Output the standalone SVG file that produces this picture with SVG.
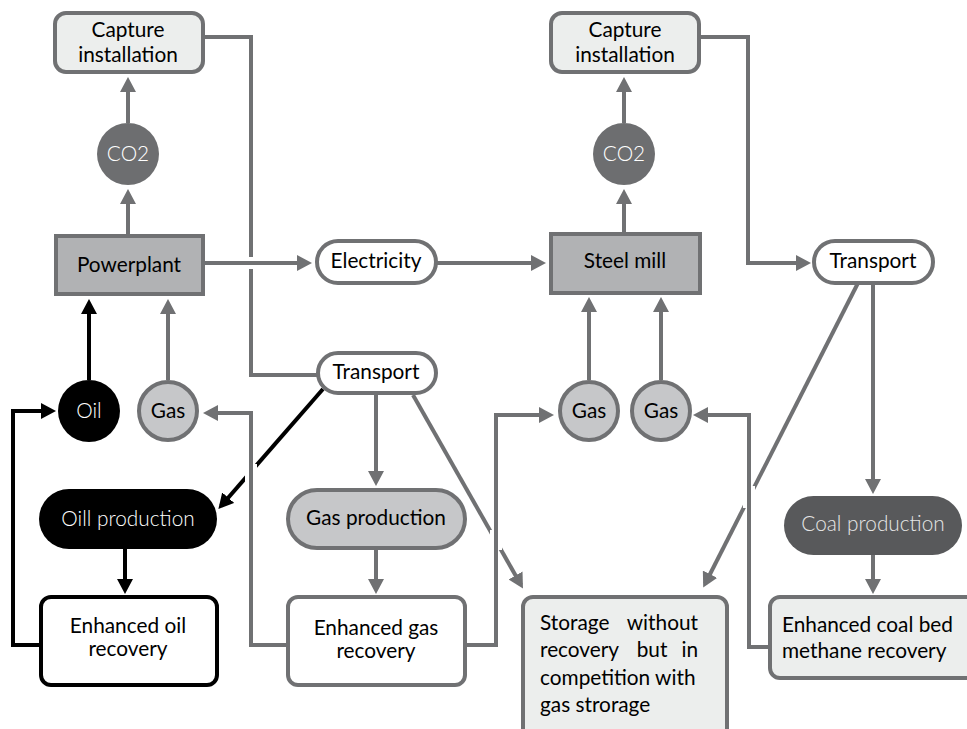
<svg xmlns="http://www.w3.org/2000/svg" width="967" height="729" viewBox="0 0 967 729">
<style>
text{font-family:Lato,"Open Sans","Liberation Sans",sans-serif;font-size:20.8px;fill:#000;text-anchor:middle}
.w{fill:#fff;font-weight:300}
.lt{fill:#e6e6e6;font-weight:300}
.la{text-anchor:start}
.le{text-anchor:end}
.g{fill:none;stroke:#707173;stroke-width:4}
.b{fill:none;stroke:#000;stroke-width:4}
.halo{fill:none;stroke:#fff;stroke-width:12}
.ga{marker-end:url(#ag)}
.ba{marker-end:url(#ab)}
.box{stroke:#707173;stroke-width:4}
</style>
<defs>
<marker id="ag" markerUnits="userSpaceOnUse" markerWidth="16" markerHeight="16" refX="11" refY="8" orient="auto"><path d="M0,0 L15,8 L0,16 z" fill="#707173"/></marker>
<marker id="ab" markerUnits="userSpaceOnUse" markerWidth="16" markerHeight="16" refX="11" refY="8" orient="auto"><path d="M0,0 L15,8 L0,16 z" fill="#000"/></marker>
</defs>
<rect width="967" height="729" fill="#fff"/>
<g id="connectors">
<line class="b ba" x1="323" y1="389" x2="221" y2="506"/>
<line class="g ga" x1="413" y1="395" x2="521" y2="585"/>
<line class="g ga" x1="858" y1="283" x2="705" y2="584"/>
<line class="halo" x1="251" y1="464" x2="251" y2="484"/>
<line class="halo" x1="496" y1="530" x2="496" y2="550"/>
<line class="halo" x1="749" y1="486" x2="749" y2="508"/>
<path class="b ba" d="M40,645 H13 V411 H52"/>
<path class="g ga" d="M287,645 H251 V413 H207"/>
<path class="g ga" d="M466,645 H496 V415 H550"/>
<path class="g ga" d="M769,647 H749 V415 H697"/>
<path class="g" d="M203,37 H251 V375 H318"/>
<path class="g ga" d="M699,37 H748 V263 H807"/>
<line class="halo" x1="242" y1="263" x2="260" y2="263"/>
<line class="g ga" x1="203" y1="263" x2="308" y2="263"/>
<line class="g ga" x1="436" y1="263" x2="542" y2="263"/>
<line class="g ga" x1="128" y1="123" x2="128" y2="81"/>
<line class="g ga" x1="128" y1="235" x2="128" y2="193"/>
<line class="g ga" x1="624" y1="123" x2="624" y2="81"/>
<line class="g ga" x1="624" y1="233" x2="624" y2="193"/>
<line class="b ba" x1="89" y1="380" x2="89" y2="303"/>
<line class="g ga" x1="168" y1="380" x2="168" y2="303"/>
<line class="g ga" x1="589" y1="380" x2="589" y2="301"/>
<line class="g ga" x1="661" y1="380" x2="661" y2="301"/>
<line class="g ga" x1="376" y1="393" x2="376" y2="482"/>
<line class="g ga" x1="376" y1="549" x2="376" y2="590"/>
<line class="b ba" x1="125" y1="549" x2="125" y2="590"/>
<line class="g ga" x1="873" y1="283" x2="873" y2="490"/>
<line class="g ga" x1="873" y1="555" x2="873" y2="590"/>
</g>
<g id="captureL"><rect class="box" x="55" y="13" width="148" height="59" rx="11" fill="#eceeed"/><text x="128" y="37">Capture</text><text x="128" y="62">installation</text></g>
<g id="co2L"><circle cx="128" cy="154" r="31" fill="#6d6e70"/><text class="w" x="128" y="161">CO2</text></g>
<g id="powerplant"><rect class="box" x="56" y="236" width="147" height="58" fill="#b1b2b4"/><text x="129" y="272">Powerplant</text></g>
<g id="electricity"><rect class="box" x="317" y="241" width="119" height="42" rx="21" fill="#fff"/><text x="376" y="268">Electricity</text></g>
<g id="captureR"><rect class="box" x="551" y="13" width="148" height="59" rx="11" fill="#eceeed"/><text x="625" y="37">Capture</text><text x="625" y="62">installation</text></g>
<g id="co2R"><circle cx="624" cy="154" r="31" fill="#6d6e70"/><text class="w" x="624" y="161">CO2</text></g>
<g id="steelmill"><rect class="box" x="551" y="234" width="149" height="59" fill="#b1b2b4"/><text x="625" y="268">Steel mill</text></g>
<g id="transportR"><rect class="box" x="814" y="241" width="119" height="42" rx="21" fill="#fff"/><text x="873" y="268">Transport</text></g>
<g id="transportM"><rect class="box" x="318" y="353" width="118" height="40" rx="20" fill="#fff"/><text x="376" y="379">Transport</text></g>
<g id="oil"><circle cx="89" cy="411" r="31" fill="#000"/><text class="w" x="89" y="418">Oil</text></g>
<g id="gasL"><circle cx="168" cy="411" r="29" fill="#c6c7c9" stroke="#707173" stroke-width="4"/><text x="168" y="418">Gas</text></g>
<g id="gasS1"><circle cx="589" cy="411" r="29" fill="#c6c7c9" stroke="#707173" stroke-width="4"/><text x="589" y="418">Gas</text></g>
<g id="gasS2"><circle cx="661" cy="411" r="29" fill="#c6c7c9" stroke="#707173" stroke-width="4"/><text x="661" y="418">Gas</text></g>
<g id="oilprod"><rect x="39" y="489" width="178" height="60" rx="30" fill="#000"/><text class="w" x="128" y="526">Oill production</text></g>
<g id="gasprod"><rect class="box" x="288" y="490" width="177" height="58" rx="29" fill="#c6c7c9"/><text x="376" y="525">Gas production</text></g>
<g id="coalprod"><rect x="784" y="496" width="178" height="59" rx="29.5" fill="#58595b"/><text class="lt" x="873" y="531">Coal production</text></g>
<g id="eor"><rect x="41" y="597" width="176" height="88" rx="10" fill="#fff" stroke="#000" stroke-width="4"/><text x="128" y="633">Enhanced oil</text><text x="128" y="656">recovery</text></g>
<g id="egr"><rect class="box" x="288" y="597" width="177" height="88" rx="10" fill="#fff"/><text x="376" y="635">Enhanced gas</text><text x="376" y="658">recovery</text></g>
<g id="storage"><rect class="box" x="523" y="597" width="204" height="150" rx="10" fill="#eceeed"/>
<text class="la" x="540" y="630">Storage</text><text class="le" x="698" y="630">without</text>
<text class="la" x="540" y="657">recovery</text><text x="652" y="657">but</text><text class="le" x="698" y="657">in</text>
<text class="la" x="540" y="685">competition with</text>
<text class="la" x="540" y="712">gas strorage</text></g>
<g id="ecbm"><rect class="box" x="770" y="597" width="210" height="81" rx="10" fill="#eceeed"/><text class="la" x="782" y="632">Enhanced coal bed</text><text class="la" x="782" y="658">methane recovery</text></g>
</svg>
